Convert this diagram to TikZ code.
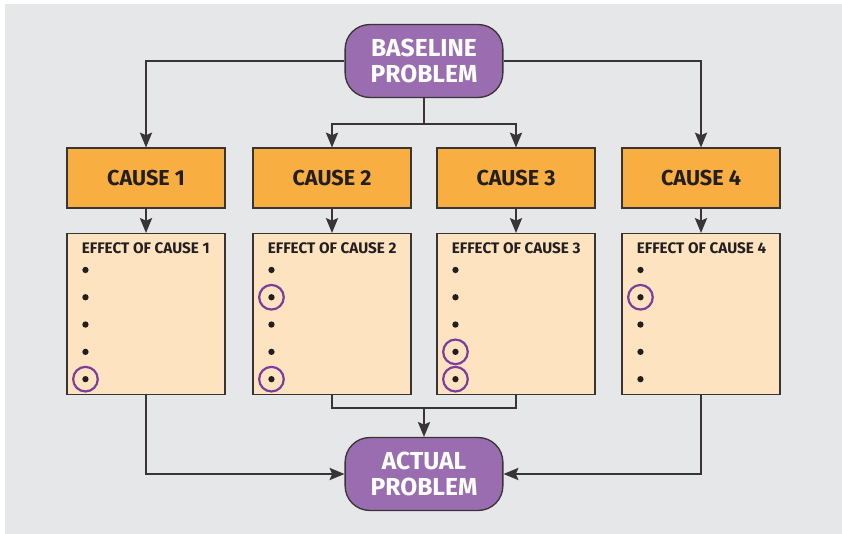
\documentclass[tikz,border=0pt]{standalone}
\usepackage{fontspec}
\setmainfont{Fira Sans}
\usetikzlibrary{arrows.meta,calc}
\definecolor{panel}{HTML}{E6E7E9}
\definecolor{probfill}{HTML}{9A6DB0}
\definecolor{causefill}{HTML}{F9AE42}
\definecolor{effectfill}{HTML}{FEE3C1}
\definecolor{ink}{HTML}{231F20}
\definecolor{ring}{HTML}{7B3E9B}
\begin{document}
\begin{tikzpicture}[x=0.02cm, y=-0.02cm,
	wire/.style={draw=ink!90, line width=0.75pt},
	arr/.style={wire, -{Stealth[length=8.5pt,width=7pt,inset=1.5pt]}},
	problem/.style={wire, fill=probfill, rounded corners=14pt, minimum width=89.8pt, minimum height=41.5pt, align=center, text=white, font=\bfseries\fontsize{14}{15}\selectfont, inner sep=0pt},
	cause/.style={wire, fill=causefill, minimum width=89.8pt, minimum height=34pt, text=ink, font=\bfseries\fontsize{12.3}{14}\selectfont, inner sep=0pt},
	effect/.style={wire, fill=effectfill, minimum width=89.8pt, minimum height=91.5pt, inner sep=0pt},
	title/.style={anchor=west, text=ink, font=\bfseries\fontsize{8.7}{9}\selectfont, inner sep=0pt},
	hl/.style={draw=ring, line width=1.25pt, circle, minimum size=14pt, inner sep=0pt}]
	
	\useasboundingbox (0,0) rectangle (842,534);
	\fill[panel] (5,4) rectangle (842,534);
	
	\node[problem] (base) at (424,61) {BASELINE\\PROBLEM};
	\node[problem] (act) at (424,474) {ACTUAL\\PROBLEM};
	
	\foreach \i/\x in {1/146, 2/332, 3/516, 4/701} {
		\node[cause] (c\i) at (\x,178) {CAUSE \i};
		\node[effect] (e\i) at (\x,314) {};
		\node[title] (t\i) at ($(e\i.north west)+(15,15)$) {EFFECT OF CAUSE \i};
		\foreach \k in {1,...,5}
		\fill[ink] ($(e\i.north west)+(19,9.7+27.3*\k)$) circle (1.8pt);
		\draw[arr] (c\i) -- (e\i);
	}
	
	% highlighted effects
	\foreach \i/\k in {1/5, 2/2, 2/5, 3/4, 3/5, 4/2}
	\node[hl] (h\i\k) at ($(e\i.north west)+(19,9.7+27.3*\k)$) {};
	
	\draw[arr] (base.west) -| (c1);
	\draw[arr] (base.east) -| (c4);
	\draw[wire] (base.south) -- ++(0,26) coordinate (split);
	\draw[arr] (split) -| (c2);
	\draw[arr] (split) -| (c3);
	
	\coordinate (join) at ($(act.north)+(0,-29)$);
	\draw[wire] (e2) |- (join) -| (e3);
	\draw[arr] (join) -- (act);
	\draw[arr] (e1) |- (act);
	\draw[arr] (e4) |- (act);
\end{tikzpicture}
\end{document}
